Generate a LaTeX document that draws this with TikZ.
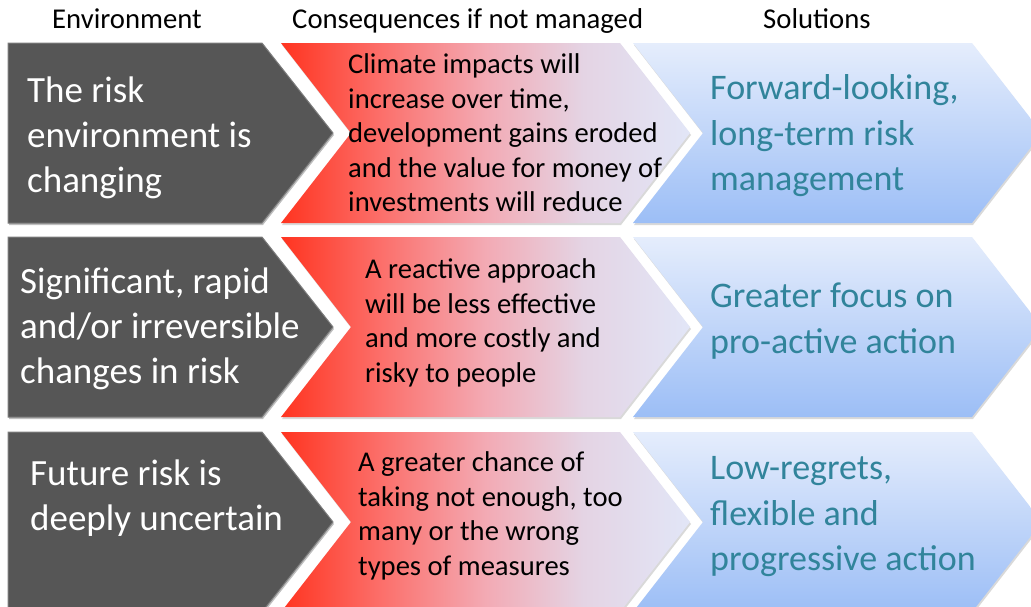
\documentclass[tikz,border=0pt]{standalone}
\usepackage{fontspec}
\setmainfont{Carlito}
\usetikzlibrary{shadows}
\definecolor{rA}{RGB}{255,52,32}
\definecolor{rB}{RGB}{252,110,105}
\definecolor{rC}{RGB}{243,170,180}
\definecolor{rD}{RGB}{228,212,228}
\definecolor{rE}{RGB}{226,230,247}
\definecolor{bTop}{RGB}{229,237,252}
\definecolor{bBot}{RGB}{156,190,246}
\definecolor{darkbox}{RGB}{86,86,86}
\definecolor{darkrim}{RGB}{125,125,125}
\definecolor{solcolor}{RGB}{49,132,155}
\pgfdeclarehorizontalshading{redshade}{100bp}{color(0bp)=(rA); color(25bp)=(rA); color(37bp)=(rB); color(50bp)=(rC); color(62bp)=(rD); color(75bp)=(rE); color(100bp)=(rE)}
\begin{document}
\begin{tikzpicture}[x=1pt,y=-1pt,
  envshape/.style={fill=darkbox, draw=darkrim, line width=1pt,
    drop shadow={shadow xshift=1pt, shadow yshift=-2pt, opacity=0.25, fill=black}},
  consshape/.style={shading=redshade,
    drop shadow={shadow xshift=1pt, shadow yshift=-2pt, opacity=0.15, fill=black}},
  solshape/.style={top color=bTop, bottom color=bBot,
    drop shadow={shadow xshift=1pt, shadow yshift=-2pt, opacity=0.15, fill=black}},
  envtext/.style={text=white, align=left, font=\fontsize{37}{45}\selectfont, inner sep=0pt, anchor=west},
  constext/.style={text=black, align=left, font=\fontsize{28.6}{34.5}\selectfont, inner sep=0pt, anchor=west},
  soltext/.style={text=solcolor, align=left, font=\fontsize{36}{45.5}\selectfont, inner sep=0pt, anchor=west},
  headtext/.style={text=black, font=\fontsize{28.7}{34}\selectfont, inner sep=0pt, anchor=base west}]
\useasboundingbox (0,0) rectangle (1031,606);
\clip (0,0) rectangle (1031,606);
\fill[white] (0,0) rectangle (1031,606);
% chevrons
\foreach \t in {43,237,432} {
  \path[envshape] (8,\t) -- (262,\t) -- (333,\t+90) -- (262,\t+180) -- (8,\t+180) -- cycle;
  \path[consshape] (281,\t) -- (620,\t) -- (690,\t+90) -- (620,\t+180) -- (281,\t+180) -- (351,\t+90) -- cycle;
  \path[solshape] (633,\t) -- (972,\t) -- (1042,\t+90) -- (972,\t+180) -- (633,\t+180) -- (703,\t+90) -- cycle;
}
% headers
\node[headtext] (h1) at (52,28) {Environment};
\node[headtext] (h2) at (292,28) {Consequences if not managed};
\node[headtext] (h3) at (763,28) {Solutions};
% row 1
\node[envtext] (e1) at (27,138) {The risk\\environment is\\changing};
\node[constext] (c1) at (348,133) {Climate impacts will\\increase over time,\\development gains eroded\\and the value for money of\\investments will reduce};
\node[soltext] (s1) at (710,136) {Forward-looking,\\long-term risk\\management};
% row 2
\node[envtext] (e2) at (20,329) {Significant, rapid\\and/or irreversible\\changes in risk};
\node[constext] (c2) at (365,323) {A reactive approach\\will be less effective\\and more costly and\\risky to people};
\node[soltext] (s2) at (710,321) {Greater focus on\\pro-active action};
% row 3
\node[envtext] (e3) at (30,498) {Future risk is\\deeply uncertain};
\node[constext] (c3) at (358,516) {A greater chance of\\taking not enough, too\\many or the wrong\\types of measures};
\node[soltext] (s3) at (710,517) {Low-regrets,\\flexible and\\progressive action};
\end{tikzpicture}
\end{document}
